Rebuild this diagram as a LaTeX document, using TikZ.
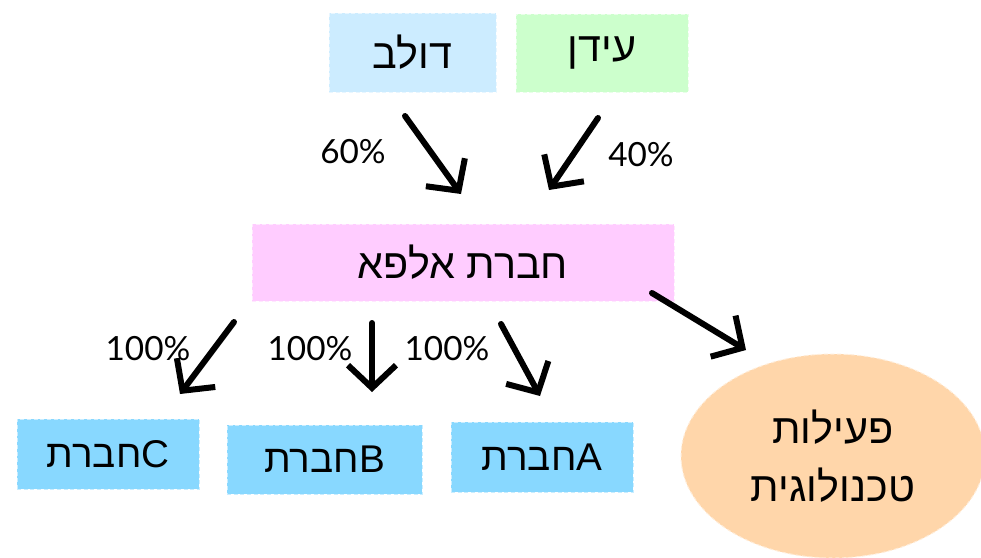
\documentclass[tikz,border=0pt]{standalone}
\usepackage{fontspec}
\setmainfont{Liberation Sans}
\newfontfamily\hebfont[Script=Hebrew]{Liberation Sans}
\newfontfamily\pctfont{Lato}
\TeXXeTstate=1
\usetikzlibrary{arrows.meta,shapes.geometric}

\definecolor{dolevblue}{RGB}{204,236,255}
\definecolor{idangreen}{RGB}{204,255,204}
\definecolor{alphapink}{RGB}{255,204,255}
\definecolor{compblue}{RGB}{136,216,255}
\definecolor{techpeach}{RGB}{255,214,170}

\tikzset{every picture/.style={line width=0.75pt}}
\tikzset{
  box/.style={draw=#1!45!white, fill=#1, dash pattern=on 3pt off 2pt, line width=0.75pt, inner sep=0pt, font=\hebfont\fontsize{31}{36}\selectfont},
  compbox/.style={box=compblue, minimum width=136.5pt, minimum height=52.5pt, font=\hebfont\fontsize{29}{34}\selectfont},
  pct/.style={font=\pctfont\fontsize{25}{30}\selectfont, inner sep=0.75pt},
  bigarrow/.style={line width=4.5pt, line cap=round, line join=round, -{Straight Barb[length=17pt,width=36pt]}}
}

\begin{document}
\begin{tikzpicture}[x=0.75pt,y=0.75pt,yscale=-1,xscale=1]
\useasboundingbox (0,0) rectangle (981,557);

% Text Node
\node (dolev) [box=dolevblue, minimum width=125.25pt, minimum height=59.25pt] at (412.5,52.5) {\beginR דולב\endR};
% Text Node
\node (idan) [box=idangreen, minimum width=129pt, minimum height=58.5pt] at (602,53) {\beginR עידן\endR};
% Text Node
\node (alpha) [box=alphapink, minimum width=316.5pt, minimum height=57.75pt] at (463,262.5) {\beginR חברת אלפא\endR};
% Text Node
\node (compC) [compbox] at (108,454) {\beginR חברת\endR{}C};
% Text Node
\node (compB) [compbox, minimum width=146.25pt, minimum height=51.75pt] at (324.5,459.5) {\beginR חברת\endR{}B};
% Text Node
\node (compA) [compbox] at (542,457) {\beginR חברת\endR{}A};
% Text Node
\node (tech) [box=techpeach, ellipse, minimum width=228pt, minimum height=153pt, align=center, font=\hebfont\fontsize{31}{44}\selectfont] at (833,456) {\beginR פעילות\endR\\\beginR טכנולוגית\endR};

% percent labels
\node (p60) [pct] at (353,152) {60\%};
\node (p40) [pct] at (641,155) {40\%};
\node (p100c) [pct] at (148,349) {100\%};
\node (p100b) [pct] at (310,349) {100\%};
\node (p100a) [pct] at (447,349) {100\%};

% arrow ends
\coordinate (d1) at (405,116);  \coordinate (d2) at (461,194);
\coordinate (i1) at (598,118);  \coordinate (i2) at (549,190);
\coordinate (t1) at (652,293);  \coordinate (t2) at (746,350);
\coordinate (c1) at (234,322);  \coordinate (c2) at (180,394);
\coordinate (b1) at (372,323);  \coordinate (b2) at (372,392);
\coordinate (a1) at (501,324);  \coordinate (a2) at (540,396);

% Connection
\draw [bigarrow] (d1) -- (d2);
% Connection
\draw [bigarrow] (i1) -- (i2);
% Connection
\draw [bigarrow] (t1) -- (t2);
% Connection
\draw [bigarrow] (c1) -- (c2);
% Connection
\draw [bigarrow] (b1) -- (b2);
% Connection
\draw [bigarrow] (a1) -- (a2);

\end{tikzpicture}
\end{document}
